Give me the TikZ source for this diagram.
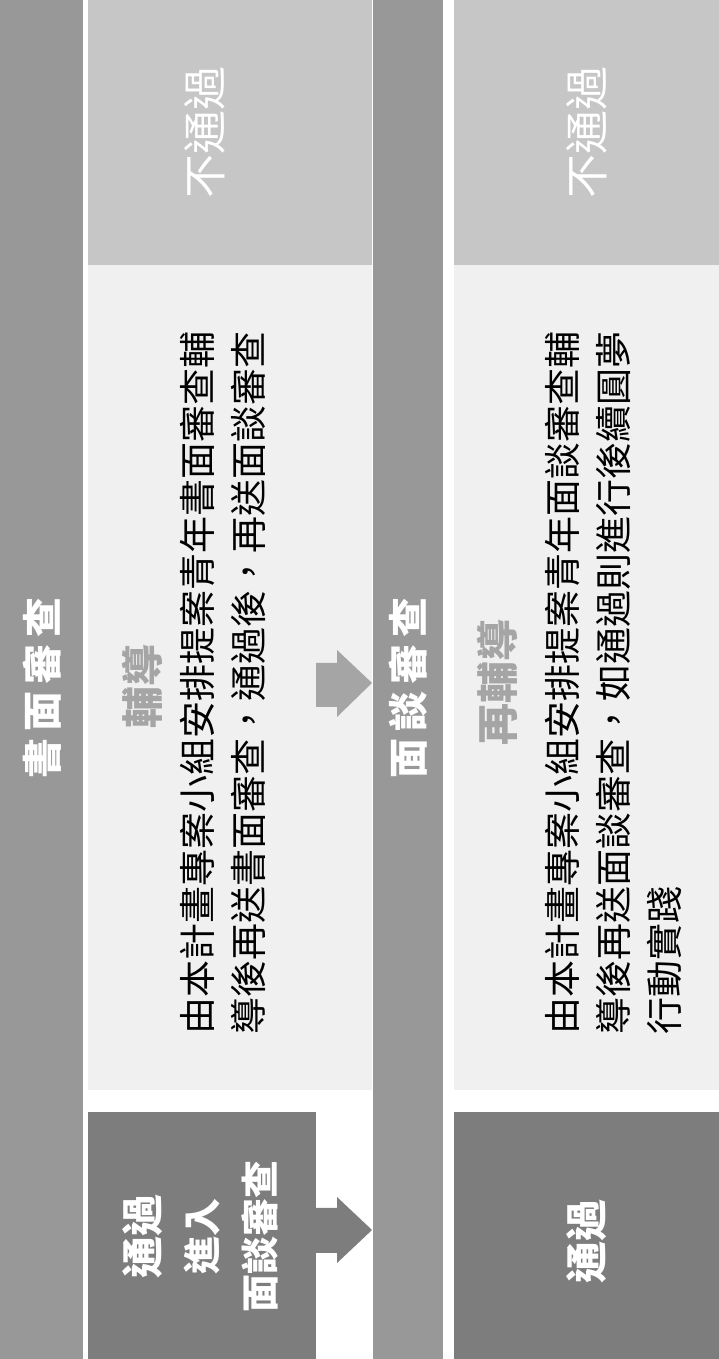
\documentclass[tikz,border=0pt]{standalone}
\usepackage{fontspec}
\setmainfont{Noto Sans CJK TC}
\usepackage{tikz}
\definecolor{bandgray}{RGB}{152,152,152}
\definecolor{panelgray}{RGB}{198,198,198}
\definecolor{bodygray}{RGB}{240,240,240}
\definecolor{passgray}{RGB}{125,125,125}
\definecolor{labelgray}{RGB}{165,165,165}
\definecolor{arrowgray}{RGB}{165,165,165}
\newcommand{\tgap}{\kern7pt}

\begin{document}
\begin{tikzpicture}[x=1pt,y=1pt,
    bodytext/.style={rotate=90,align=left,anchor=north west,inner sep=0pt,
        font=\fontsize{37}{51}\selectfont},
    headtext/.style={rotate=90,text=white,inner sep=0pt,font=\bfseries\fontsize{40}{48}\selectfont},
    labeltext/.style={rotate=90,text=labelgray,inner sep=0pt,font=\bfseries\fontsize{42}{48}\selectfont},
    passtext/.style={rotate=90,align=center,text=white,inner sep=0pt,font=\bfseries\fontsize{38}{58}\selectfont}]
    \useasboundingbox (0,0) rectangle (719,1359);
    \fill[white] (0,0) rectangle (719,1359);

    % Stage bands
    \foreach \x/\w in {0/83, 373/70} {
        \fill[bandgray] (\x,0) rectangle ++(\w,1359);
    }

    % Panels: not passed, coaching, passed
    \foreach \x/\w in {88/284, 454/265} {
        \fill[panelgray] (\x,1094) rectangle ++(\w,265);
        \fill[bodygray] (\x,269) rectangle ++(\w,825);
    }
    \fill[passgray] (88,0) rectangle (316,247);
    \fill[passgray] (454,0) rectangle (719,247);

    % Arrows
    \fill[arrowgray] (316,652) -- (337,652) -- (337,642) -- (372,676)
        -- (337,709) -- (337,696) -- (316,696) -- cycle;
    \fill[passgray] (316,106) -- (337,106) -- (337,96) -- (372,129)
        -- (337,162) -- (337,151) -- (316,151) -- cycle;

    % Stage titles
    \node[headtext] (title1) at (42,671) {書\tgap 面\tgap 審\tgap 查};
    \node[headtext] (title2) at (408,671) {面\tgap 談\tgap 審\tgap 查};

    % Not passed
    \node[headtext,font=\fontsize{44}{48}\selectfont] (fail1) at (205,1226) {不通過};
    \node[headtext,font=\fontsize{44}{48}\selectfont] (fail2) at (587,1226) {不通過};

    % Coaching
    \node[labeltext] (coach1) at (142,672) {輔導};
    \node[labeltext] (coach2) at (497,676) {再輔導};
    \node[bodytext] (body1) at (180,324)
        {由本計畫專案小組安排提案青年書面審查輔\\導後再送書面審查，通過後，再送面談審查};
    \node[bodytext] (body2) at (545,324)
        {由本計畫專案小組安排提案青年面談審查輔\\導後再送面談審查，如通過則進行後續圓夢\\行動實踐};

    % Passed
    \node[passtext] (pass1) at (200,122) {{\fontsize{42}{58}\selectfont 通過}\\進入\\面談審查};
    \node[passtext,font=\bfseries\fontsize{42}{58}\selectfont] (pass2) at (587,117) {通過};
\end{tikzpicture}
\end{document}
